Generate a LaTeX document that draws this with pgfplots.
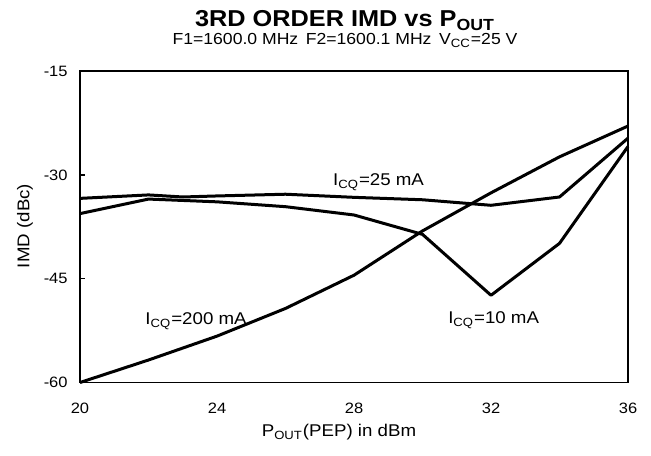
\documentclass[border=0pt]{standalone}
\usepackage{fontspec}
\setmainfont{Liberation Sans}[FakeStretch=1.1]
\usepackage{pgfplots}
\pgfplotsset{compat=1.18}
\begin{document}
\begin{tikzpicture}[x=1pt,y=1pt]
\useasboundingbox (-40,-36.25) rectangle (285.5,191.25);
\begin{axis}[
  at={(0,0)}, anchor=south west,
  scale only axis, width=274pt, height=155.75pt,
  xmin=20, xmax=36, ymin=-60, ymax=-15,
  xtick={20,24,28,32,36}, ytick={-60,-45,-30,-15},
  axis line style={line width=0.9pt},
  tick align=inside, major tick length=2.5pt,
  ytick pos=left,
  y tick style={line width=0.7pt, black},
  x tick style={draw=none},
  /pgf/number format/assume math mode=true,
  tick label style={font=\fontsize{7.5}{9}\selectfont, inner sep=0pt},
  xticklabel style={anchor=base, yshift=-15.4pt},
  yticklabel style={anchor=east, xshift=-6pt},
  clip=false,
]
% I_CQ = 25 mA
\addplot[black, line width=1.5pt, line join=round] coordinates {
 (20,-33.4) (22,-32.9) (23,-33.2) (24,-33.05) (26,-32.8) (28,-33.25) (30,-33.6) (32,-34.4) (34,-33.2) (36,-24.7)
};
% I_CQ = 10 mA
\addplot[black, line width=1.5pt, line join=round] coordinates {
 (20,-35.6) (22,-33.5) (24,-33.9) (26,-34.6) (28,-35.8) (30,-38.6) (32,-47.4) (34,-39.9) (36,-25.9)
};
% I_CQ = 200 mA
\addplot[black, line width=1.5pt, line join=round] coordinates {
 (20,-60) (22,-56.75) (24,-53.3) (26,-49.3) (28,-44.5) (30,-38.1) (32,-32.6) (34,-27.4) (36,-22.95)
};
\node[anchor=base west, inner sep=0pt, font=\fontsize{8.5}{10}\selectfont] at (axis cs:27.38,-31.6) {I\textsubscript{CQ}=25 mA};
\node[anchor=base west, inner sep=0pt, font=\fontsize{8.5}{10}\selectfont] at (axis cs:21.9,-51.6) {I\textsubscript{CQ}=200 mA};
\node[anchor=base west, inner sep=0pt, font=\fontsize{8.5}{10}\selectfont] at (axis cs:30.74,-51.45) {I\textsubscript{CQ}=10 mA};
\end{axis}
\node[anchor=base, inner sep=0pt, font=\bfseries\fontsize{11.5}{13}\selectfont] at (132.5,177.9) {3RD ORDER IMD vs P\textsubscript{OUT}};
\node[anchor=base, inner sep=0pt, font=\fontsize{8}{10}\selectfont] at (132.5,168.75) {F1=1600.0 MHz\, F2=1600.1 MHz\, V\textsubscript{CC}=25 V};
\node[anchor=base, inner sep=0pt, font=\fontsize{8.5}{10}\selectfont] at (129.5,-27.1) {P\textsubscript{OUT}(PEP) in dBm};
\node[rotate=90, anchor=center, inner sep=0pt, font=\fontsize{8.5}{10}\selectfont] at (-27.5,78.25) {IMD (dBc)};
\end{tikzpicture}
\end{document}
